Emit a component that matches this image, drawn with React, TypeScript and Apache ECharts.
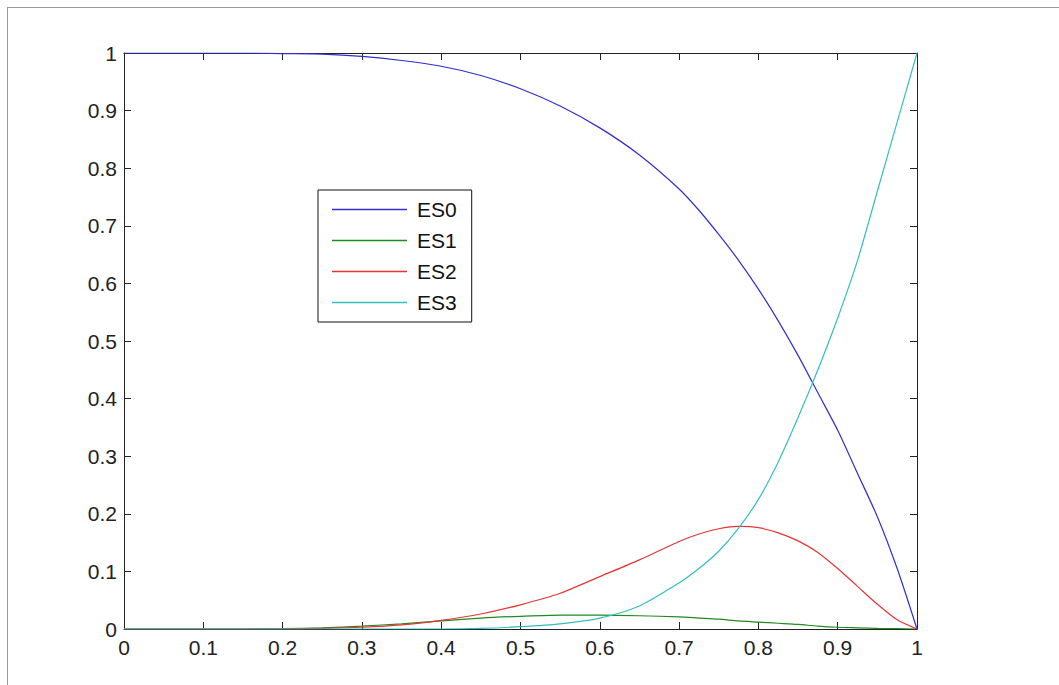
import React, { useEffect, useRef } from "react";
import * as echarts from "echarts";

const xs = [0, 0.05, 0.1, 0.15, 0.2, 0.25, 0.3, 0.35, 0.4, 0.45, 0.5, 0.55, 0.6, 0.65, 0.7, 0.725, 0.75, 0.775, 0.8, 0.825, 0.85, 0.875, 0.9, 0.925, 0.95, 0.975, 1];
const es0 = [1, 1, 1, 1, 0.999, 0.998, 0.994, 0.987, 0.977, 0.961, 0.938, 0.908, 0.87, 0.823, 0.764, 0.727, 0.685, 0.64, 0.59, 0.535, 0.475, 0.41, 0.345, 0.27, 0.195, 0.105, 0];
const es1 = [0, 0, 0, 0, 0.0005, 0.002, 0.005, 0.009, 0.014, 0.019, 0.022, 0.024, 0.024, 0.023, 0.021, 0.019, 0.017, 0.014, 0.012, 0.01, 0.008, 0.005, 0.003, 0.002, 0.001, 0.0005, 0];
const es2 = [0, 0, 0, 0, 0, 0.001, 0.003, 0.007, 0.015, 0.026, 0.042, 0.062, 0.091, 0.12, 0.152, 0.165, 0.174, 0.178, 0.176, 0.167, 0.153, 0.133, 0.105, 0.074, 0.043, 0.016, 0];
const es3 = [0, 0, 0, 0, 0, 0, 0, 0, 0, 0.001, 0.004, 0.009, 0.019, 0.04, 0.08, 0.105, 0.135, 0.175, 0.225, 0.29, 0.367, 0.45, 0.54, 0.64, 0.76, 0.88, 1];
const seriesNames = ["ES0", "ES1", "ES2", "ES3"];
const seriesColors = ["#2f2fcf", "#1f8a1f", "#e53535", "#33bfbf"];

const FONT = "'Liberation Sans', Arial, sans-serif";

export default function App() {
  const ref = useRef<HTMLDivElement>(null);
  useEffect(() => {
    document.body.style.margin = "0";
    const chart = echarts.init(ref.current!, null, { renderer: "svg" });
    const all = [es0, es1, es2, es3];
    const axisLine = { show: true, onZero: false, lineStyle: { color: "#222", width: 1 } };
    const tick = { show: true, inside: true, length: 7, lineStyle: { color: "#222", width: 1 } };
    chart.setOption({
      animation: false,
      backgroundColor: "#fff",
      grid: { left: 124, right: 142, top: 53, bottom: 56 },
      xAxis: [
        {
          type: "value", min: 0, max: 1, interval: 0.1, position: "bottom",
          axisLine, axisTick: tick, splitLine: { show: false },
          axisLabel: { color: "#222", fontSize: 21, fontFamily: FONT, margin: 8 },
        },
        {
          type: "value", min: 0, max: 1, interval: 0.1, position: "top",
          axisLine, axisTick: tick, splitLine: { show: false }, axisLabel: { show: false },
        },
      ],
      yAxis: [
        {
          type: "value", min: 0, max: 1, interval: 0.1, position: "left",
          axisLine, axisTick: tick, splitLine: { show: false },
          axisLabel: { color: "#222", fontSize: 21, fontFamily: FONT, margin: 7 },
        },
        {
          type: "value", min: 0, max: 1, interval: 0.1, position: "right",
          axisLine, axisTick: tick, splitLine: { show: false }, axisLabel: { show: false },
        },
      ],
      legend: {
        orient: "vertical",
        left: 318,
        top: 190,
        icon: "rect",
        itemWidth: 75,
        itemHeight: 1.5,
        itemGap: 10,
        padding: [9, 15, 9, 14],
        borderColor: "#111",
        borderWidth: 1,
        backgroundColor: "#fff",
        textStyle: { color: "#111", fontSize: 21, fontFamily: FONT, padding: [0, 0, 0, 5] },
        data: seriesNames,
      },
      graphic: [
        { type: "line", shape: { x1: 7, y1: 7.5, x2: 1059, y2: 7.5 }, style: { stroke: "#999", lineWidth: 1 } },
        { type: "line", shape: { x1: 7.5, y1: 7, x2: 7.5, y2: 685 }, style: { stroke: "#999", lineWidth: 1 } },
      ],
      series: all.map((arr, i) => ({
        name: seriesNames[i],
        type: "line",
        xAxisIndex: 0,
        yAxisIndex: 0,
        data: xs.map((x, j) => [x, arr[j]]),
        symbol: "none",
        smooth: 0.25,
        color: seriesColors[i],
        lineStyle: { color: seriesColors[i], width: 1.2 },
      })),
    });
    return () => chart.dispose();
  }, []);
  return <div ref={ref} style={{ width: 1059, height: 685 }} />;
}
